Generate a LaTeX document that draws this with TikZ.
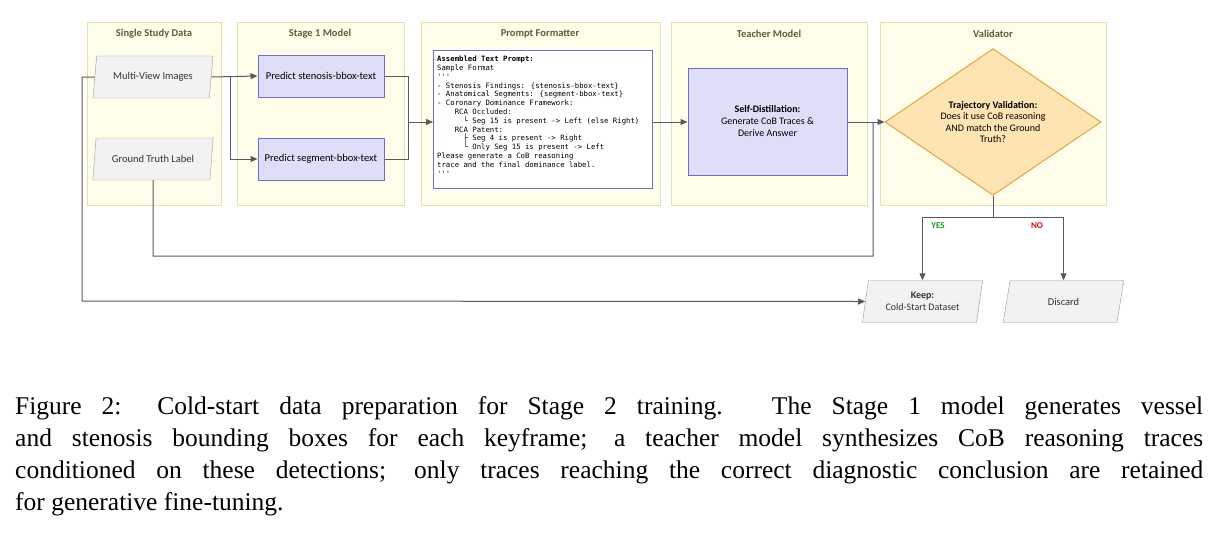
\documentclass[tikz,border=0pt]{standalone}
\usepackage{fontspec}
\setmainfont{Liberation Serif}
\newfontfamily\dgf{Carlito}
\newfontfamily\monof{DejaVu Sans Mono}
\usetikzlibrary{shapes.geometric,arrows.meta}
\definecolor{lanefill}{HTML}{FEFDE9}
\definecolor{lanedraw}{HTML}{E2E2B4}
\definecolor{lanetxt}{HTML}{5E5E3A}
\definecolor{bluef}{HTML}{DEDEF8}
\definecolor{blued}{HTML}{6F6FBF}
\definecolor{grayf}{HTML}{F2F2F2}
\definecolor{grayd}{HTML}{9A9A9A}
\definecolor{diaf}{HTML}{FDE4B2}
\definecolor{diad}{HTML}{E2A445}
\definecolor{linec}{HTML}{5A5A5A}
\definecolor{yesc}{HTML}{1A9A1A}
\definecolor{noc}{HTML}{D01010}
\begin{document}
\begin{tikzpicture}[x=1pt,y=-1pt,
  lane/.style={draw=lanedraw,fill=lanefill,line width=0.8pt},
  lanetitle/.style={font=\dgf\bfseries\fontsize{10.5}{12}\selectfont,text=lanetxt},
  para/.style={trapezium,trapezium left angle=80,trapezium right angle=100,trapezium stretches=true,draw=grayd,fill=grayf,minimum width=121,minimum height=42,font=\dgf\fontsize{10.5}{12}\selectfont,text=black!80,align=center},
  blue/.style={draw=blued,fill=bluef,line width=1pt,minimum width=126,minimum height=42,font=\dgf\fontsize{10.5}{12}\selectfont,align=center},
  conn/.style={draw=linec,line width=1pt},
  arr/.style={conn,-{Triangle[length=7pt,width=6pt]}}]
\useasboundingbox (0,0) rectangle (1219,547);
\fill[white] (0,0) rectangle (1219,547);
% lanes
\draw[lane] (87,22) rectangle (221,205);
\draw[lane] (237,22) rectangle (404,205);
\draw[lane] (421,22) rectangle (660,205);
\draw[lane] (671,22) rectangle (867,205);
\draw[lane] (880,22) rectangle (1106,205);
\node[lanetitle] (t1) at (154,34) {Single Study Data};
\node[lanetitle] (t2) at (320,34) {Stage 1 Model};
\node[lanetitle] (t3) at (540,34) {Prompt Formatter};
\node[lanetitle] (t4) at (769,34) {Teacher Model};
\node[lanetitle] (t5) at (993,34) {Validator};
% nodes
\node[para] (mv) at (153,77) {Multi-View Images};
\node[para] (gt) at (153,159) {Ground Truth Label};
\node[blue] (ps) at (321,76) {Predict stenosis-bbox-text};
\node[blue] (pg) at (321,159) {Predict segment-bbox-text};
\node[draw=blued,fill=white,line width=1pt,minimum width=219,minimum height=138,anchor=north west,inner sep=0pt] (pf) at (433,50) {};
\node[anchor=north west,inner sep=0pt,align=left,font=\monof\fontsize{7.3}{8.8}\selectfont] (pft) at (437,56) {\textbf{Assembled Text Prompt:}\\
Sample Format\\
'''\\
- Stenosis Findings: \{stenosis-bbox-text\}\\
- Anatomical Segments: \{segment-bbox-text\}\\
- Coronary Dominance Framework:\\
\ \ \ \ RCA Occluded:\\
\ \ \ \ \ \ └ Seg 15 is present -> Left (else Right)\\
\ \ \ \ RCA Patent:\\
\ \ \ \ \ \ ├ Seg 4 is present -> Right\\
\ \ \ \ \ \ └ Only Seg 15 is present -> Left\\
Please generate a CoB reasoning\\
trace and the final dominance label.\\
'''};
\node[draw=blued,fill=bluef,line width=1pt,minimum width=159,minimum height=107,font=\dgf\fontsize{10}{12}\selectfont,align=center] (sd) at (767.5,121.5) {\textbf{Self-Distillation:}\\Generate CoB Traces \&\\Derive Answer};
\node[diamond,draw=diad,fill=diaf,line width=1pt,minimum width=216,minimum height=142,inner sep=0pt,font=\dgf\fontsize{10}{11.5}\selectfont,align=center] (dv) at (993,122) {\textbf{Trajectory Validation:}\\Does it use CoB reasoning\\AND match the Ground\\Truth?};
\node[para,font=\dgf\fontsize{10}{12}\selectfont] (kp) at (922.5,301.5) {\textbf{Keep:}\\Cold-Start Dataset};
\node[para] (dc) at (1063.5,301.5) {Discard};
% connectors
\coordinate (b1) at (230,77);
\draw[arr] (mv.east) -- (ps.west);
\draw[arr] (b1) |- (pg.west);
\draw[conn] (ps.east) -- (408,76) -- (408,159) -- (pg.east);
\draw[arr] (408,122) -- (pf.west |- 0,122);
\draw[arr] (pf.east |- 0,122) -- (sd.west |- 0,122);
\draw[arr] (sd.east |- 0,122) -- (dv.west);
\draw[conn] (gt.south) -- (153,256) -- (873,256) -- (873,122);
\draw[arr] (mv.west) -- (82,77) -- (82,301) -- (kp.west);
\draw[conn] (dv.south) -- (993,217) coordinate (sp);
\draw[arr] (sp) -| (kp.north);
\draw[arr] (sp) -| (dc.north);
\node[font=\dgf\bfseries\fontsize{9}{10}\selectfont,text=yesc] (yes) at (938,226) {YES};
\node[font=\dgf\bfseries\fontsize{9}{10}\selectfont,text=noc] (no) at (1037,226) {NO};
% caption
\node[anchor=north west,inner sep=0pt,text width=1188pt,align=justify,font=\fontsize{25.5}{32}\selectfont] (cap) at (15,396) {Figure 2: Cold-start data preparation for Stage 2 training. The Stage 1 model generates vessel\linebreak and stenosis bounding boxes for each keyframe; a teacher model synthesizes CoB reasoning traces\linebreak conditioned on these detections; only traces reaching the correct diagnostic conclusion are retained\linebreak for generative fine-tuning.};
\end{tikzpicture}
\end{document}
